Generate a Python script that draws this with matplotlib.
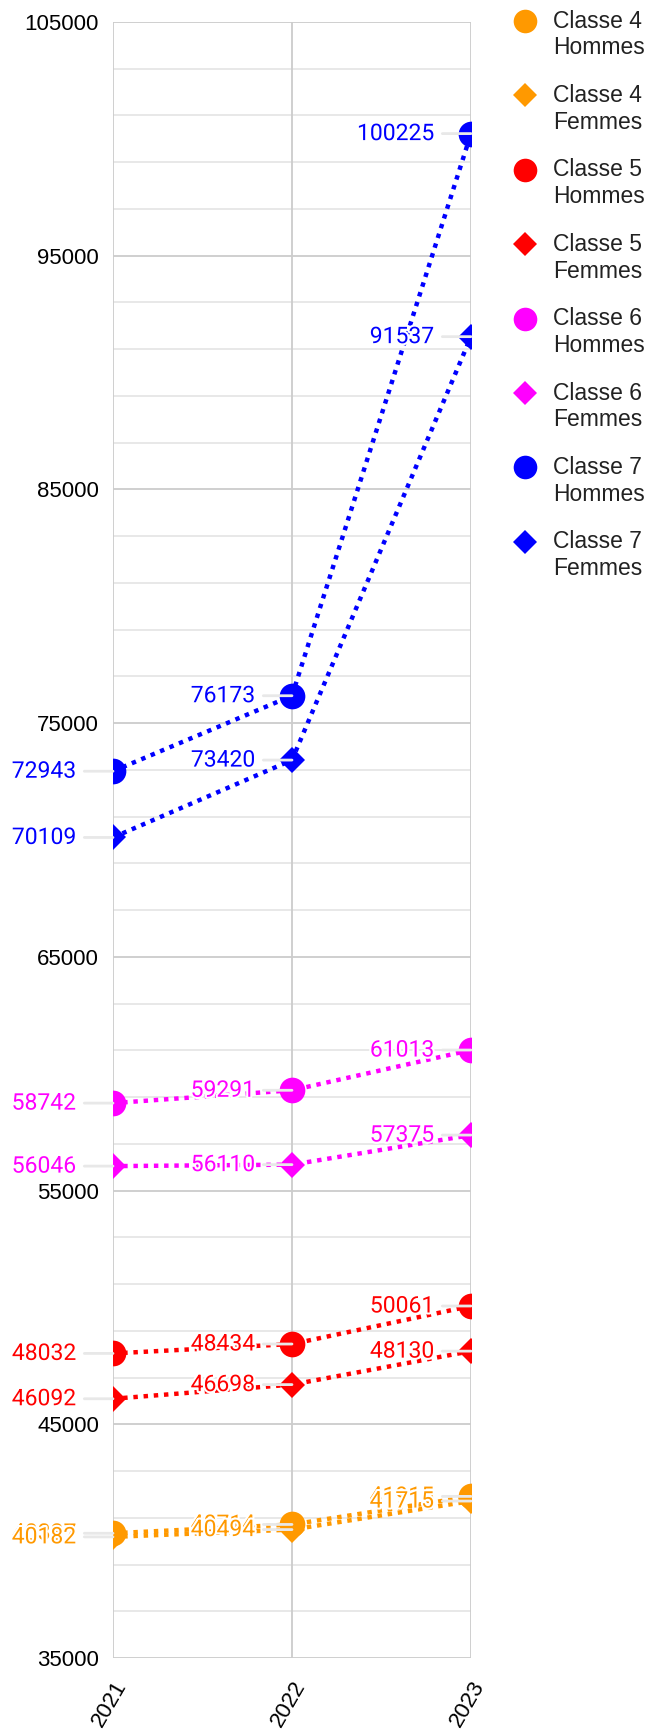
import matplotlib
matplotlib.use("Agg")
import matplotlib.pyplot as plt
import matplotlib.patheffects as pe
from matplotlib.lines import Line2D

years = ["2021", "2022", "2023"]
series_names = ["Classe 4\nHommes", "Classe 4\nFemmes", "Classe 5\nHommes", "Classe 5\nFemmes",
                "Classe 6\nHommes", "Classe 6\nFemmes", "Classe 7\nHommes", "Classe 7\nFemmes"]
c4_hommes = [40337, 40714, 41915]
c4_femmes = [40182, 40494, 41715]
c5_hommes = [48032, 48434, 50061]
c5_femmes = [46092, 46698, 48130]
c6_hommes = [58742, 59291, 61013]
c6_femmes = [56046, 56110, 57375]
c7_hommes = [72943, 76173, 100225]
c7_femmes = [70109, 73420, 91537]
values = [c4_hommes, c4_femmes, c5_hommes, c5_femmes, c6_hommes, c6_femmes, c7_hommes, c7_femmes]
colors = ["#FF9900", "#FF9900", "#FF0000", "#FF0000", "#FF00FF", "#FF00FF", "#0000FF", "#0000FF"]
markers = ["o", "D", "o", "D", "o", "D", "o", "D"]
yticks = [35000, 45000, 55000, 65000, 75000, 85000, 95000, 105000]

W, H = 662, 1730
fig = plt.figure(figsize=(W / 100, H / 100), dpi=100)
ax = fig.add_axes([113 / W, 1 - 1658 / H, (471 - 113) / W, (1658 - 22) / H])

x = list(range(len(years)))
ax.set_xlim(0, len(years) - 1)
ax.set_ylim(35000, 105000)

# grid
for yv in range(35000, 105001, 2000):
    major = (yv - 35000) % 10000 == 0
    ax.axhline(yv, color="#cccccc" if major else "#e6e6e6", lw=1.3, zorder=0)
for xv in x:
    ax.axvline(xv, color="#cccccc", lw=1.3, zorder=0)
for s in ax.spines.values():
    s.set_visible(False)

ax.set_yticks(yticks)
ax.set_yticklabels([str(v) for v in yticks], fontsize=16, family="Liberation Sans", color="black")
ax.set_xticks(x)
ax.set_xticklabels(years, fontsize=16, family="Liberation Sans", rotation=60,
                   ha="right", va="top", rotation_mode="anchor", color="black")
ax.tick_params(axis="both", length=0)
ax.tick_params(axis="y", pad=10)
ax.tick_params(axis="x", pad=14)

for i, (vals, col, mk) in enumerate(zip(values, colors, markers)):
    ms = 18.5 if mk == "o" else 13
    ax.plot(x, vals, color=col, lw=3.2, linestyle=(0, (1, 1.3)), marker=mk, markersize=ms,
            markeredgewidth=0, zorder=3 + i * 0.01)
for i, (vals, col) in enumerate(zip(values, colors)):
    for xi, v in zip(x, vals):
        ax.annotate(str(v), xy=(xi, v), xytext=(-37, 0), textcoords="offset pixels",
                    ha="right", va="center", fontsize=16.5, family="Roboto", color=col,
                    annotation_clip=False, zorder=10 + i * 0.01,
                    path_effects=[pe.withStroke(linewidth=3, foreground="white")],
                    arrowprops=dict(arrowstyle="-", color="#e8e8e8", lw=2,
                                    shrinkA=4, shrinkB=0))

# legend
for i, (name, col, mk) in enumerate(zip(series_names, colors, markers)):
    ytop = 21 + 74.4 * i
    ms = 17 if mk == "o" else 12
    fig.add_artist(Line2D([525 / W], [1 - ytop / H], marker=mk, color=col, markersize=ms,
                          markeredgewidth=0, linestyle="none", transform=fig.transFigure))
    for j, line in enumerate(name.split("\n")):
        fig.text(553 / W, 1 - (ytop + 27 * j) / H, line, fontsize=16.5, family="Liberation Sans",
                 color="#222222", ha="left", va="center")

fig.savefig("out.png", dpi=100)
